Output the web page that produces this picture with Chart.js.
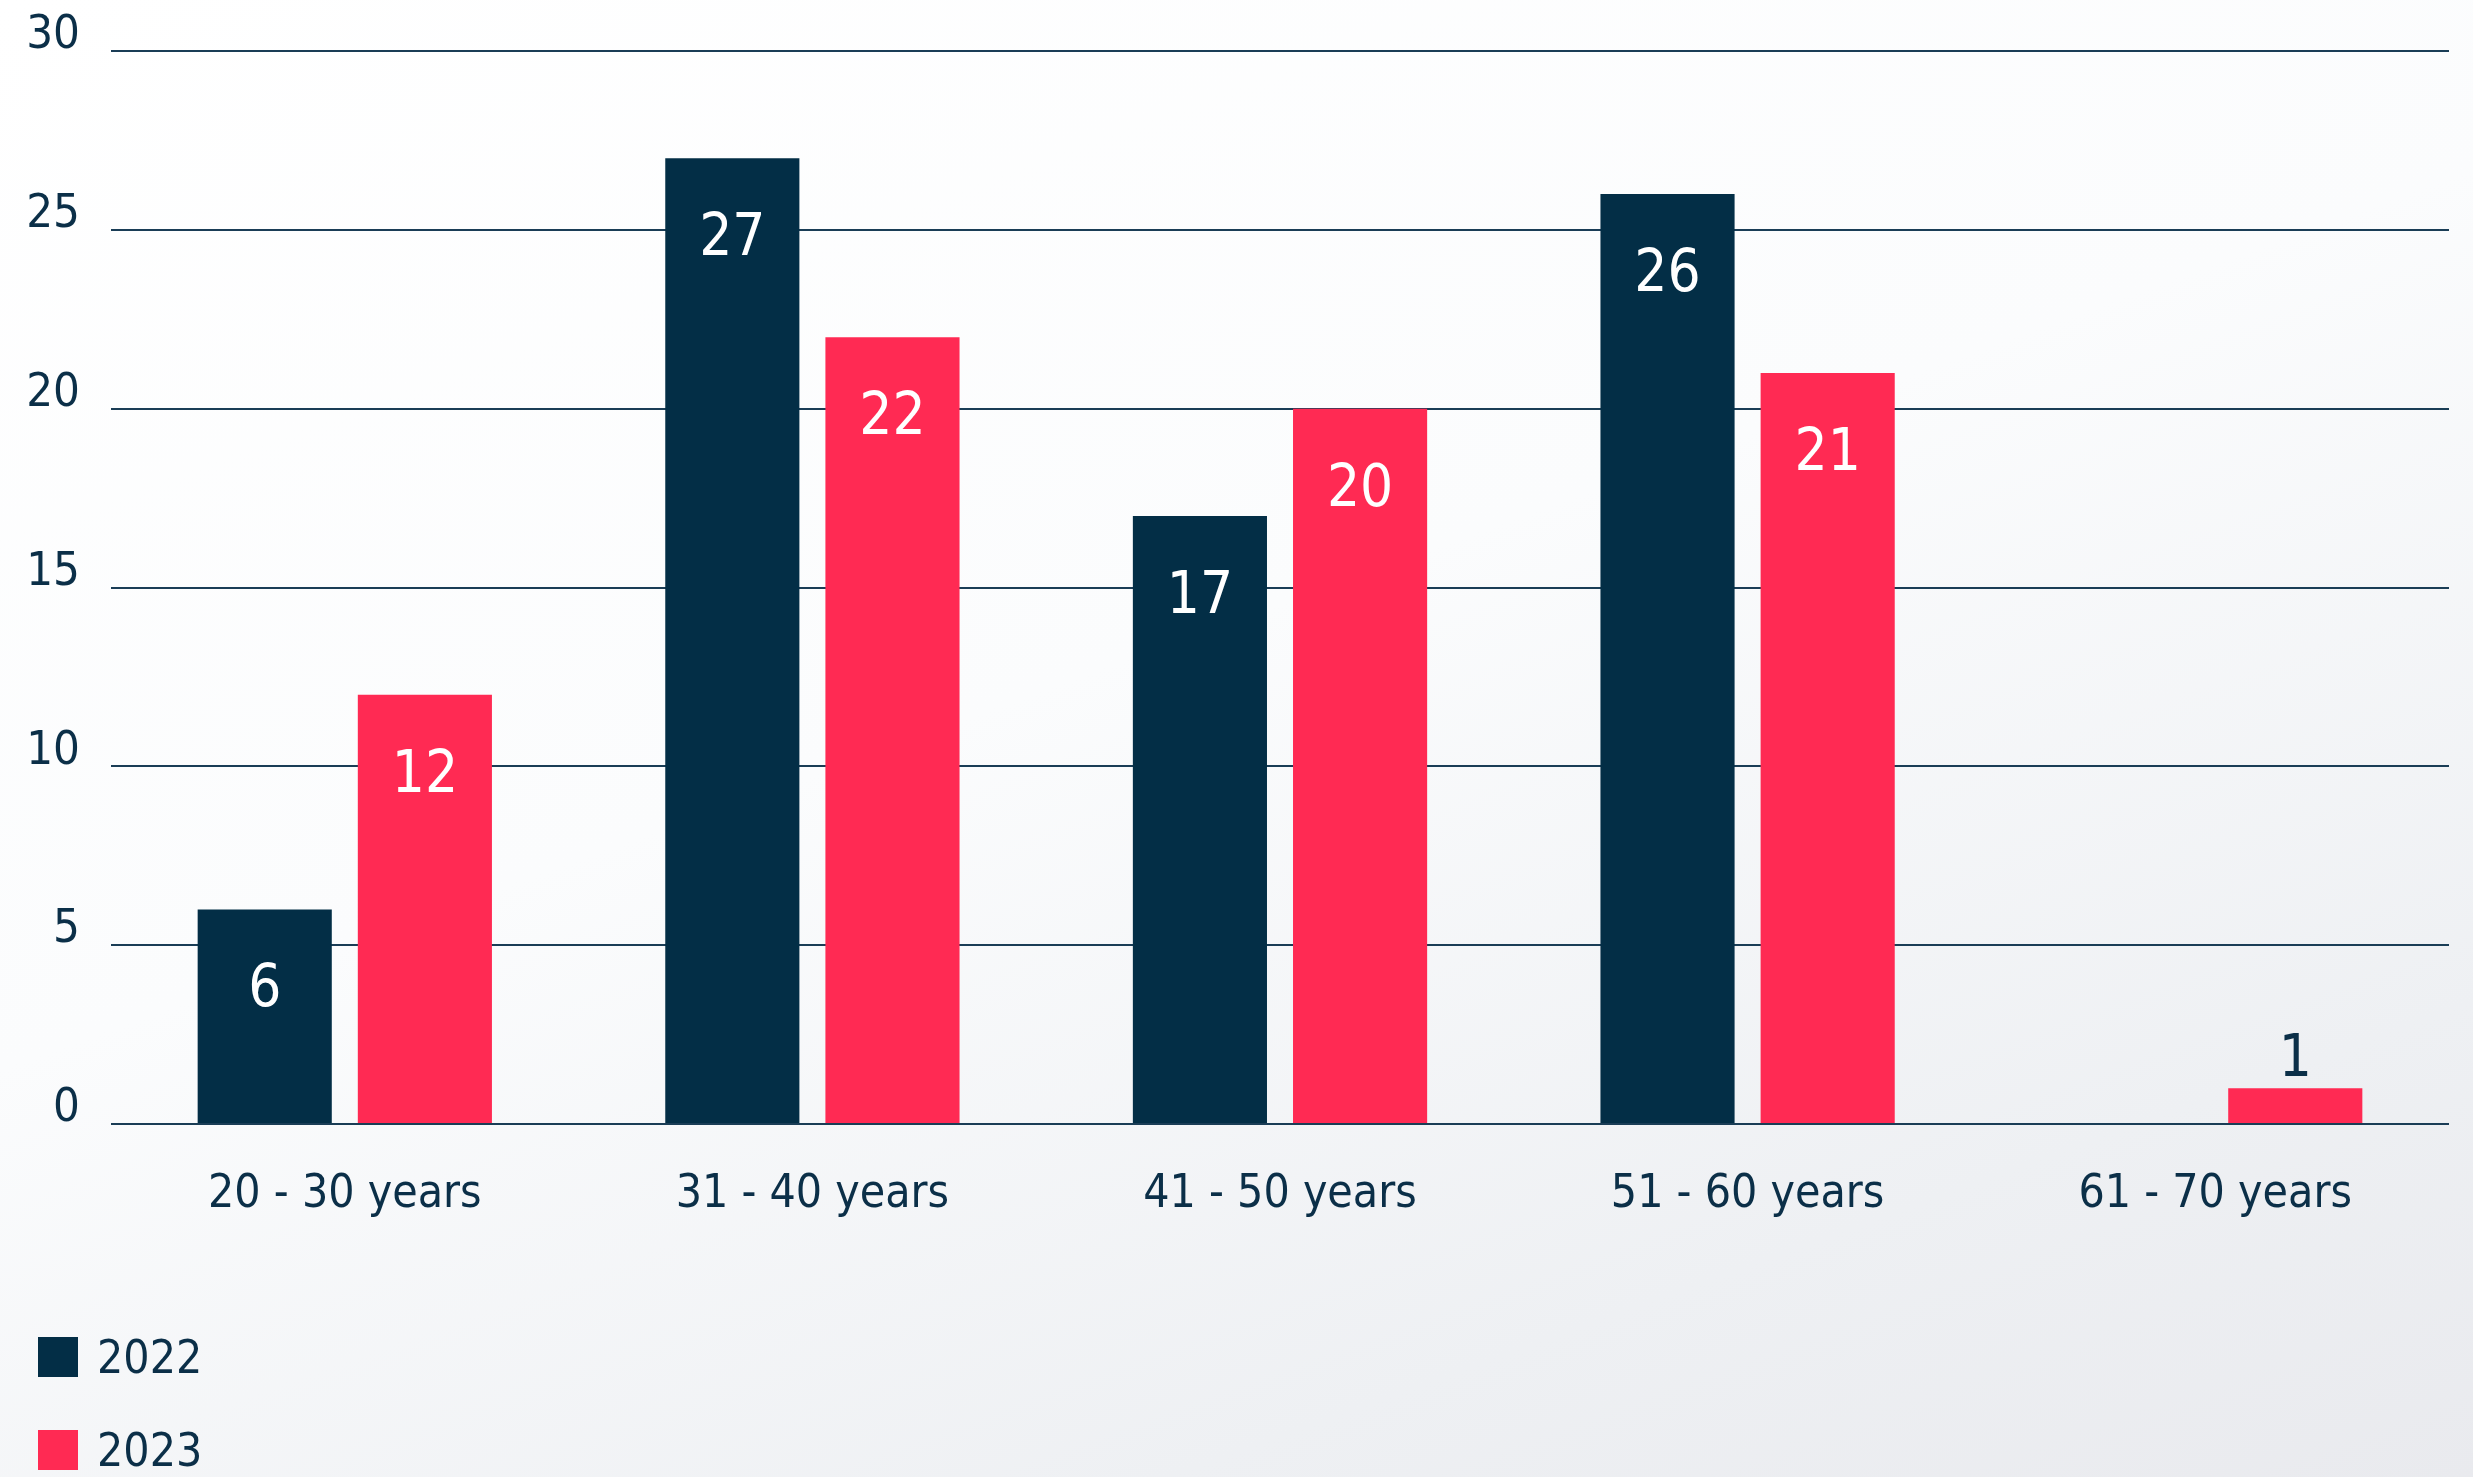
<!DOCTYPE html>
<html>
<head>
	<meta charset="utf-8" />
	<title>Employees by age</title>
	<style>
		html, body {
			margin: 0;
			padding: 0;
			width: 2473px;
			height: 1477px;
			overflow: hidden;
			background: linear-gradient(160deg, #ffffff 0%, #fbfcfd 45%, #eef0f3 80%, #e9eaee 100%);
		}
		#wrap {
			position: relative;
			width: 2473px;
			height: 1477px;
		}
	</style>
</head>
<body>
	<div id="wrap">
		<canvas id="chart" width="2473" height="1477"></canvas>
	</div>

	<script src="https://cdn.jsdelivr.net/npm/chart.js@4.4.0/dist/chart.umd.min.js"></script>
	<script>
		var categories = ['20 - 30 years', '31 - 40 years', '41 - 50 years', '51 - 60 years', '61 - 70 years']
		var seriesNames = ['2022', '2023']
		var values2022 = [6, 27, 17, 26, null]
		var values2023 = [12, 22, 20, 21, 1]
		var yTicks = [0, 5, 10, 15, 20, 25, 30]

		var navy = '#032e46'
		var red = '#ff2a53'
		var textColor = '#0b2f48'
		var fontName = '"Liberation Sans Narrow", "DejaVu Sans Condensed", Arial, sans-serif'

		// value labels: white inside the tall bars, dark above the short one
		var valueLabels = {
			id: 'valueLabels',
			afterDatasetsDraw: function (chart) {
				var ctx = chart.ctx
				ctx.save()
				ctx.font = '58px ' + fontName
				ctx.textAlign = 'center'
				ctx.textBaseline = 'middle'
				chart.data.datasets.forEach(function (ds, i) {
					var meta = chart.getDatasetMeta(i)
					meta.data.forEach(function (bar, j) {
						var v = ds.data[j]
						if (v === null || v === undefined) return
						if (v >= 3) {
							ctx.fillStyle = '#ffffff'
							ctx.fillText(String(v), bar.x, bar.y + 82)
						} else {
							ctx.fillStyle = textColor
							ctx.fillText(String(v), bar.x, bar.y - 27)
						}
					})
				})
				ctx.restore()
			}
		}

		// stacked legend in the lower left corner
		var stackedLegend = {
			id: 'stackedLegend',
			afterDraw: function (chart) {
				var ctx = chart.ctx
				ctx.save()
				ctx.font = '46px ' + fontName
				ctx.textAlign = 'left'
				ctx.textBaseline = 'middle'
				chart.data.datasets.forEach(function (ds, i) {
					var y = 1337 + i * 93
					ctx.fillStyle = ds.backgroundColor
					ctx.fillRect(38, y, 40, 40)
					ctx.fillStyle = textColor
					ctx.fillText(ds.label, 97, y + 24)
				})
				ctx.restore()
			}
		}

		var ctx = document.getElementById('chart').getContext('2d')
		var chart = new Chart(ctx, {
			type: 'bar',
			data: {
				labels: categories,
				datasets: [{
					label: seriesNames[0],
					data: values2022,
					backgroundColor: navy,
					categoryPercentage: 0.685,
					barPercentage: 0.8375
				}, {
					label: seriesNames[1],
					data: values2023,
					backgroundColor: red,
					categoryPercentage: 0.685,
					barPercentage: 0.8375
				}]
			},
			options: {
				responsive: false,
				animation: false,
				layout: {
					padding: { top: 51, right: 24, bottom: 200, left: 0 }
				},
				plugins: {
					legend: { display: false },
					tooltip: { enabled: false }
				},
				scales: {
					x: {
						grid: { display: false, drawTicks: false },
						border: { display: false },
						ticks: {
							color: textColor,
							padding: 43,
							font: { family: fontName, size: 46 }
						},
						afterFit: function (scale) { scale.height = 153 }
					},
					y: {
						min: 0,
						max: 30,
						afterBuildTicks: function (scale) {
							scale.ticks = yTicks.map(function (v) { return { value: v } })
						},
						grid: {
							color: '#1a3d56',
							lineWidth: 2,
							drawTicks: false
						},
						border: { display: false },
						ticks: {
							color: textColor,
							padding: 31,
							labelOffset: -15,
							font: { family: fontName, size: 47 }
						},
						afterFit: function (scale) {
							scale.width = 111
							scale.paddingTop = 0
							scale.paddingBottom = 0
						}
					}
				}
			},
			plugins: [valueLabels, stackedLegend]
		})
	</script>
</body>
</html>
